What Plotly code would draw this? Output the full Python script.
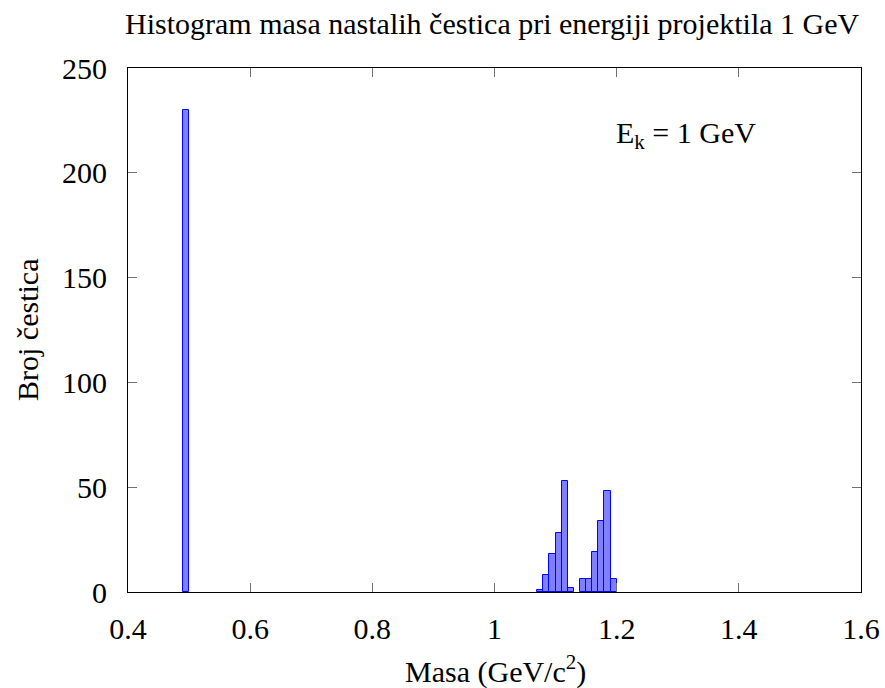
import plotly.graph_objects as go

bin_centers = [0.495, 1.075, 1.085, 1.095, 1.105, 1.115, 1.125,
               1.145, 1.155, 1.165, 1.175, 1.185, 1.195]
counts = [230, 1, 8, 18, 28, 53, 2, 6, 6, 19, 34, 48, 6]
bin_width = 0.01

x_tickvals = [0.4, 0.6, 0.8, 1.0, 1.2, 1.4, 1.6]
x_ticktext = ["0.4", "0.6", "0.8", "1", "1.2", "1.4", "1.6"]
y_tickvals = [0, 50, 100, 150, 200, 250]

font = "Liberation Serif"
fs = 30

W, H = 885, 688
L, R, T, B = 128, 861, 68, 592


def px(xs):
    return (xs - L) / (R - L)


def py(ys):
    return (B - ys) / (B - T)


fig = go.Figure()
fig.add_trace(go.Bar(
    x=bin_centers, y=counts, width=bin_width,
    marker=dict(color="rgba(0,0,255,0.5)", line=dict(color="#0000ff", width=1)),
    showlegend=False,
))

fig.update_layout(
    width=W, height=H,
    margin=dict(l=L, r=W - R, t=T, b=H - B, autoexpand=False),
    paper_bgcolor="white", plot_bgcolor="white",
    font=dict(family=font, size=fs, color="black"),
    bargap=0,
)
fig.update_xaxes(
    range=[0.4, 1.6], tickvals=x_tickvals, ticktext=x_ticktext,
    ticks="inside", ticklen=9, tickcolor="#707070", tickwidth=1,
    showline=True, linecolor="black", linewidth=1, mirror="ticks",
    showgrid=False, zeroline=False, automargin=False,
    ticklabelstandoff=10,
)
fig.update_yaxes(
    range=[0, 250], tickvals=y_tickvals,
    ticks="inside", ticklen=9, tickcolor="#707070", tickwidth=1,
    showline=True, linecolor="black", linewidth=1, mirror="ticks",
    showgrid=False, zeroline=False, automargin=False,
    ticklabelstandoff=14,
)
fig.add_annotation(
    text="Histogram masa nastalih čestica pri energiji projektila 1 GeV",
    xref="paper", yref="paper", x=px(492), y=py(23),
    xanchor="center", yanchor="middle", showarrow=False,
    font=dict(family=font, size=fs, color="black"),
)
fig.add_annotation(
    text="Masa (GeV/c<sup>2</sup>)", xref="paper", yref="paper",
    x=px(495), y=py(669),
    xanchor="center", yanchor="middle", showarrow=False,
    font=dict(family=font, size=fs, color="black"),
)
fig.add_annotation(
    text="Broj čestica", xref="paper", yref="paper",
    x=px(27), y=py(330), textangle=-90,
    xanchor="center", yanchor="middle", showarrow=False,
    font=dict(family=font, size=fs, color="black"),
)
fig.add_annotation(
    text="E<sub>k</sub> = 1 GeV", xref="paper", yref="paper",
    x=px(614), y=py(135), xanchor="left", yanchor="middle",
    showarrow=False, font=dict(family=font, size=fs, color="black"),
)

fig.write_html(
    "out.html",
    config={"displayModeBar": False},
    post_script="document.body.style.margin='0';document.body.style.overflow='hidden';",
)
